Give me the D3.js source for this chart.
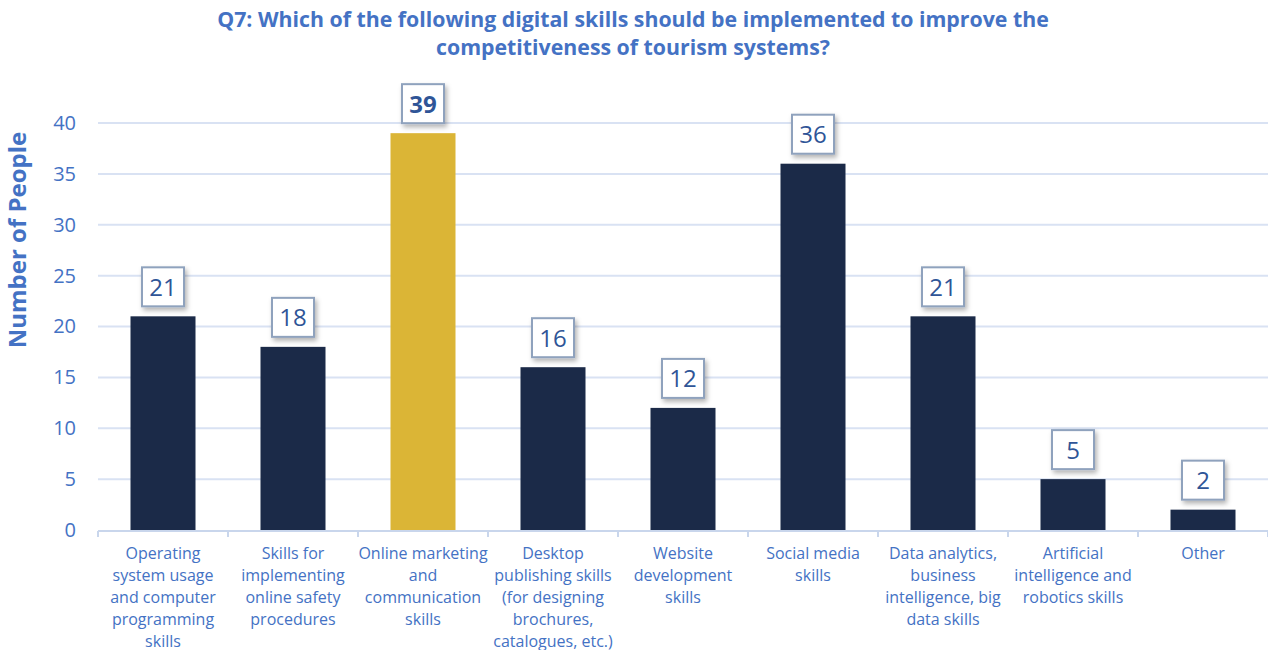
<!DOCTYPE html>
<html>
<head>
<meta charset="utf-8">
<script src="https://cdn.jsdelivr.net/npm/d3@7"></script>
<style>
  body { margin: 0; background: #fff; }
  text { font-family: "Open Sans", "Noto Sans", sans-serif; }
</style>
</head>
<body>
<svg id="chart" width="1268" height="650"></svg>
<script>
var categories = [
  ["Operating", "system usage", "and computer", "programming", "skills"],
  ["Skills for", "implementing", "online safety", "procedures"],
  ["Online marketing", "and", "communication", "skills"],
  ["Desktop", "publishing skills", "(for designing", "brochures,", "catalogues, etc.)"],
  ["Website", "development", "skills"],
  ["Social media", "skills"],
  ["Data analytics,", "business", "intelligence, big", "data skills"],
  ["Artificial", "intelligence and", "robotics skills"],
  ["Other"]
];
var values = [21, 18, 39, 16, 12, 36, 21, 5, 2];
var highlight = [false, false, true, false, false, false, false, false, false];
var yTicks = [0, 5, 10, 15, 20, 25, 30, 35, 40];
var titleLines = [
  "Q7: Which of the following digital skills should be implemented to improve the",
  "competitiveness of tourism systems?"
];

var svg = d3.select("#chart"),
    width = +svg.attr("width"),
    height = +svg.attr("height");

var margin = {top: 123, right: 0, bottom: 120, left: 98};

var x = d3.scaleBand()
    .domain(d3.range(values.length))
    .range([margin.left, width - margin.right])
    .paddingInner(0.5)
    .paddingOuter(0.25);

var y = d3.scaleLinear()
    .domain([0, 40])
    .range([height - margin.bottom, margin.top]);

var blue = "#4472c4";

// defs for label shadow
var defs = svg.append("defs");
var f = defs.append("filter").attr("id", "shadow")
    .attr("x", "-30%").attr("y", "-30%").attr("width", "170%").attr("height", "170%");
f.append("feDropShadow")
    .attr("dx", 2).attr("dy", 3).attr("stdDeviation", 2.5)
    .attr("flood-color", "#000").attr("flood-opacity", 0.3);

// title
svg.append("g").selectAll("text")
    .data(titleLines)
    .enter().append("text")
    .attr("x", 633)
    .attr("y", function(d, i) { return 27 + i * 28; })
    .attr("text-anchor", "middle")
    .attr("font-size", 21.3)
    .attr("font-weight", "bold")
    .attr("fill", blue)
    .text(function(d) { return d; });

// gridlines
svg.append("g")
    .selectAll("line")
    .data(yTicks.filter(function(d) { return d > 0; }))
    .enter().append("line")
    .attr("x1", margin.left)
    .attr("x2", width - margin.right)
    .attr("y1", function(d) { return y(d); })
    .attr("y2", function(d) { return y(d); })
    .attr("stroke", "#d9e2f3")
    .attr("stroke-width", 2);

// y axis
var yAxis = svg.append("g")
    .attr("transform", "translate(" + margin.left + ",0)")
    .call(d3.axisLeft(y).tickValues(yTicks).tickSize(0).tickPadding(22));
yAxis.select(".domain").remove();
yAxis.selectAll("text")
    .attr("font-size", 20)
    .attr("fill", blue)
    .attr("font-family", "'Open Sans', sans-serif");

svg.append("text")
    .attr("transform", "translate(26," + 240 + ") rotate(-90)")
    .attr("text-anchor", "middle")
    .attr("font-size", 24)
    .attr("font-weight", "bold")
    .attr("fill", blue)
    .text("Number of People");

// bars
svg.append("g").selectAll("rect")
    .data(values)
    .enter().append("rect")
    .attr("x", function(d, i) { return x(i); })
    .attr("y", function(d) { return y(d); })
    .attr("width", x.bandwidth())
    .attr("height", function(d) { return y(0) - y(d); })
    .attr("fill", function(d, i) { return highlight[i] ? "#dbb536" : "#1b2a48"; });

// x axis baseline + ticks
var step = x.step();
svg.append("line")
    .attr("x1", margin.left).attr("x2", width)
    .attr("y1", y(0) + 1).attr("y2", y(0) + 1)
    .attr("stroke", "#c9d6ec").attr("stroke-width", 2);
svg.append("g").selectAll("line")
    .data(d3.range(values.length + 1))
    .enter().append("line")
    .attr("x1", function(i) { return margin.left + i * step; })
    .attr("x2", function(i) { return margin.left + i * step; })
    .attr("y1", y(0) + 1).attr("y2", y(0) + 7)
    .attr("stroke", "#c9d6ec").attr("stroke-width", 2);

// category labels
var cat = svg.append("g").selectAll("text")
    .data(categories)
    .enter().append("text")
    .attr("text-anchor", "middle")
    .attr("font-size", 16)
    .attr("fill", blue);
cat.selectAll("tspan")
    .data(function(d, i) { return d.map(function(s) { return {s: s, i: i}; }); })
    .enter().append("tspan")
    .attr("x", function(d) { return x(d.i) + x.bandwidth() / 2; })
    .attr("y", function(d, j) { return y(0) + 28.5 + j * 22; })
    .text(function(d) { return d.s; });

// value labels
var lab = svg.append("g").selectAll("g")
    .data(values)
    .enter().append("g")
    .attr("transform", function(d, i) {
        return "translate(" + (x(i) + x.bandwidth() / 2) + "," + (y(d) - 29) + ")";
    });
lab.append("rect")
    .attr("x", -21).attr("y", -20)
    .attr("width", 42).attr("height", 39)
    .attr("fill", "#fff")
    .attr("stroke", "#8fa2bd")
    .attr("stroke-width", 2)
    .attr("filter", "url(#shadow)");
lab.append("text")
    .attr("text-anchor", "middle")
    .attr("dy", "0.35em")
    .attr("font-size", 24)
    .attr("font-weight", function(d, i) { return highlight[i] ? "bold" : "normal"; })
    .attr("fill", "#2f5597")
    .text(function(d) { return d; });
</script>
</body>
</html>
